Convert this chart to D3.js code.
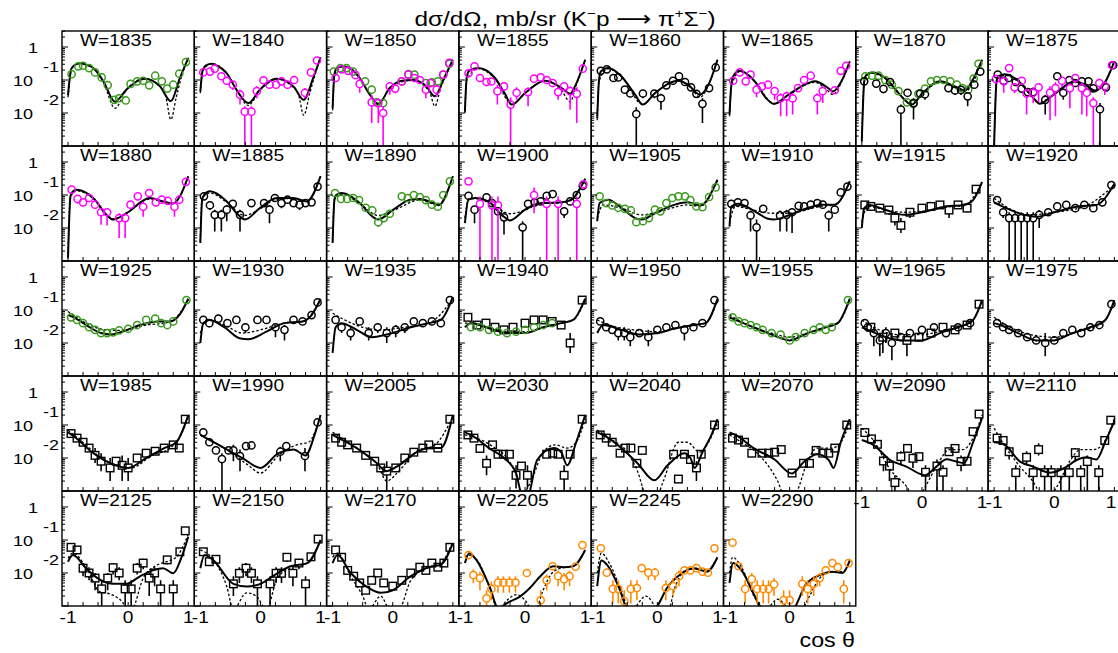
<!DOCTYPE html>
<html><head><meta charset="utf-8">
<script src="https://cdn.jsdelivr.net/npm/d3@7"></script>
<style>body{margin:0;background:#fff}text{font-family:'Liberation Sans',Arial,Helvetica,sans-serif;fill:#000}</style>
</head><body><svg id="c" width="1118" height="653"></svg>
<script>
// ---------------- DATA ----------------
const energies = [1835,1840,1850,1855,1860,1865,1870,1875,
 1880,1885,1890,1900,1905,1910,1915,1920,
 1925,1930,1935,1940,1950,1955,1965,1975,
 1985,1990,2005,2030,2040,2070,2090,2110,
 2125,2150,2170,2205,2245,2290];
const xTickLabels = ["-1","0","1"];
const yTickLabels = [{v:1,base:"1",exp:""},{v:0.1,base:"10",exp:"-1"},{v:0.01,base:"10",exp:"-2"}];

// solid curve (fit 1) per panel: [cos, dsigma/dOmega]
const solidCurves = [
 [[-1,0.035],[-0.97,0.12],[-0.94,0.23],[-0.8,0.32],[-0.7,0.29],[-0.58,0.23],[-0.41,0.09],[-0.22,0.022],[-0.03,0.051],[0.28,0.11],[0.53,0.064],[0.71,0.023],[0.86,0.115],[1,0.47]],
 [[-1,0.045],[-0.96,0.2],[-0.9,0.28],[-0.81,0.31],[-0.7,0.26],[-0.56,0.16],[-0.4,0.051],[-0.2,0.02],[-0.01,0.051],[0.27,0.11],[0.55,0.064],[0.72,0.025],[0.88,0.12],[1,0.49]],
 [[-1,0.014],[-0.97,0.15],[-0.93,0.23],[-0.82,0.26],[-0.7,0.22],[-0.55,0.115],[-0.38,0.036],[-0.24,0.019],[-0.05,0.057],[0.15,0.095],[0.34,0.1],[0.56,0.064],[0.7,0.032],[0.84,0.1],[1,0.41]],
 [[-1,0.011],[-0.97,0.12],[-0.93,0.19],[-0.78,0.23],[-0.5,0.115],[-0.34,0.04],[-0.22,0.018],[0,0.04],[0.33,0.095],[0.61,0.057],[0.75,0.038],[0.83,0.064],[1,0.41]],
 [[-1,0.007],[-0.97,0.1],[-0.94,0.18],[-0.82,0.23],[-0.6,0.13],[-0.37,0.036],[-0.24,0.018],[-0.04,0.04],[0.35,0.095],[0.51,0.072],[0.71,0.036],[0.85,0.072],[1,0.41]],
 [[-1,0.009],[-0.97,0.07],[-0.94,0.13],[-0.83,0.19],[-0.58,0.091],[-0.39,0.028],[-0.26,0.019],[-0.02,0.036],[0.31,0.081],[0.42,0.091],[0.64,0.057],[0.72,0.045],[0.86,0.091],[1,0.37]],
 [[-1,0.0014],[-0.96,0.09],[-0.93,0.14],[-0.83,0.17],[-0.61,0.115],[-0.39,0.04],[-0.17,0.018],[0,0.038],[0.3,0.091],[0.55,0.064],[0.72,0.048],[0.83,0.091],[1,0.41]],
 [[-1,0.001],[-0.96,0.09],[-0.93,0.13],[-0.82,0.15],[-0.6,0.095],[-0.37,0.032],[-0.24,0.019],[-0.05,0.032],[0.35,0.091],[0.51,0.072],[0.68,0.048],[0.84,0.081],[1,0.37]],
 [[-1,0.0013],[-0.96,0.09],[-0.94,0.115],[-0.86,0.145],[-0.58,0.081],[-0.36,0.025],[-0.25,0.018],[-0.03,0.028],[0.36,0.081],[0.58,0.064],[0.75,0.055],[0.86,0.091],[1,0.37]],
 [[-1,0.0035],[-0.97,0.07],[-0.94,0.1],[-0.84,0.13],[-0.56,0.064],[-0.37,0.025],[-0.26,0.018],[-0.01,0.04],[0.27,0.081],[0.55,0.081],[0.77,0.064],[1,0.37]],
 [[-1,0.0035],[-0.97,0.07],[-0.94,0.1],[-0.85,0.115],[-0.55,0.057],[-0.32,0.021],[-0.24,0.018],[0.01,0.036],[0.29,0.072],[0.45,0.076],[0.67,0.057],[0.76,0.049],[1,0.37]],
 [[-1,0.014],[-0.94,0.072],[-0.83,0.081],[-0.61,0.064],[-0.39,0.025],[-0.25,0.017],[0,0.036],[0.27,0.057],[0.61,0.06],[0.77,0.072],[1,0.31]],
 [[-1,0.016],[-0.96,0.057],[-0.82,0.072],[-0.6,0.041],[-0.37,0.02],[-0.26,0.018],[-0.04,0.028],[0.29,0.051],[0.51,0.06],[0.71,0.048],[1,0.29]],
 [[-1,0.011],[-0.97,0.045],[-0.86,0.054],[-0.58,0.032],[-0.36,0.019],[-0.27,0.018],[-0.02,0.024],[0.31,0.041],[0.53,0.051],[0.75,0.051],[1,0.26]],
 [[-1,0.01],[-0.96,0.04],[-0.88,0.05],[-0.6,0.035],[-0.3,0.025],[0,0.03],[0.4,0.045],[0.7,0.05],[0.85,0.07],[1,0.25]],
 [[-1,0.06],[-0.8,0.04],[-0.5,0.025],[-0.3,0.022],[0,0.03],[0.4,0.045],[0.7,0.05],[1,0.22]],
 [[-1,0.07],[-0.9,0.06],[-0.7,0.035],[-0.45,0.02],[-0.3,0.018],[-0.1,0.022],[0.2,0.035],[0.5,0.045],[0.7,0.045],[0.85,0.07],[1,0.22]],
 [[-1,0.01],[-0.95,0.04],[-0.85,0.05],[-0.6,0.03],[-0.35,0.014],[-0.2,0.013],[0.1,0.022],[0.4,0.04],[0.7,0.045],[0.85,0.07],[1,0.22]],
 [[-1,0.005],[-0.95,0.03],[-0.85,0.04],[-0.6,0.025],[-0.35,0.015],[-0.1,0.018],[0.3,0.03],[0.6,0.04],[0.8,0.05],[1,0.25]],
 [[-1,0.03],[-0.9,0.04],[-0.6,0.028],[-0.3,0.02],[0,0.02],[0.3,0.03],[0.6,0.04],[0.8,0.05],[1,0.22]],
 [[-1,0.02],[-0.9,0.035],[-0.6,0.025],[-0.3,0.018],[0,0.02],[0.3,0.028],[0.6,0.035],[0.8,0.04],[1,0.22]],
 [[-1,0.06],[-0.9,0.05],[-0.6,0.03],[-0.3,0.018],[0,0.012],[0.3,0.02],[0.6,0.03],[0.8,0.04],[1,0.22]],
 [[-1,0.03],[-0.9,0.025],[-0.6,0.015],[-0.3,0.012],[0,0.012],[0.3,0.02],[0.6,0.03],[0.85,0.05],[1,0.2]],
 [[-1,0.04],[-0.9,0.035],[-0.6,0.02],[-0.3,0.012],[0,0.012],[0.3,0.02],[0.6,0.03],[0.85,0.05],[1,0.2]],
 [[-1,0.06],[-0.9,0.045],[-0.6,0.015],[-0.3,0.007],[0,0.005],[0.3,0.01],[0.6,0.02],[0.8,0.03],[1,0.2]],
 [[-1,0.05],[-0.9,0.04],[-0.6,0.02],[-0.3,0.01],[0,0.005],[0.3,0.014],[0.55,0.018],[0.75,0.012],[0.9,0.05],[1,0.2]],
 [[-1,0.05],[-0.9,0.04],[-0.6,0.02],[-0.3,0.008],[-0.1,0.004],[0.1,0.006],[0.4,0.015],[0.6,0.02],[0.8,0.02],[1,0.2]],
 [[-1,0.06],[-0.9,0.05],[-0.6,0.02],[-0.35,0.01],[-0.15,0.0035],[-0.05,0.0008],[0.05,0.0008],[0.2,0.0087],[0.48,0.02],[0.6,0.015],[0.7,0.006],[0.85,0.03],[1,0.2]],
 [[-1,0.06],[-0.9,0.05],[-0.6,0.02],[-0.33,0.0069],[-0.05,0.0021],[0.17,0.006],[0.45,0.014],[0.55,0.01],[0.62,0.005],[0.75,0.015],[0.9,0.05],[1,0.15]],
 [[-1,0.06],[-0.9,0.05],[-0.6,0.02],[-0.25,0.009],[0.03,0.0034],[0.25,0.008],[0.46,0.013],[0.65,0.0087],[0.73,0.005],[0.85,0.03],[1,0.15]],
 [[-1,0.035],[-0.81,0.025],[-0.53,0.0087],[-0.26,0.0055],[0.05,0.003],[0.24,0.0055],[0.41,0.0091],[0.57,0.0078],[0.7,0.007],[0.85,0.03],[1,0.16]],
 [[-1,0.03],[-0.85,0.027],[-0.57,0.0078],[-0.35,0.0055],[-0.07,0.0036],[0.21,0.0055],[0.37,0.0087],[0.53,0.0105],[0.7,0.009],[0.86,0.035],[1,0.13]],
 [[-1,0.022],[-0.92,0.035],[-0.7,0.014],[-0.47,0.0063],[-0.25,0.0047],[-0.03,0.0047],[0.19,0.0078],[0.41,0.012],[0.58,0.014],[0.75,0.0098],[0.89,0.031],[1,0.126]],
 [[-1,0.014],[-0.93,0.035],[-0.78,0.024],[-0.45,0.0047],[-0.23,0.0039],[0,0.0047],[0.28,0.0098],[0.5,0.016],[0.78,0.02],[1,0.1]],
 [[-1,0.02],[-0.92,0.035],[-0.7,0.01],[-0.45,0.004],[-0.2,0.0025],[0,0.003],[0.3,0.008],[0.6,0.015],[0.8,0.018],[1,0.08]],
 [[-1,0.02],[-0.93,0.04],[-0.81,0.025],[-0.59,0.0039],[-0.45,0.0009],[-0.26,0.00135],[-0.09,0.0019],[0.08,0.0035],[0.25,0.0078],[0.47,0.016],[0.64,0.015],[0.8,0.016],[1,0.05]],
 [[-1,0.004],[-0.93,0.024],[-0.84,0.018],[-0.62,0.003],[-0.5,0.0008],[-0.2,0.0005],[0,0.001],[0.16,0.0035],[0.38,0.009],[0.6,0.014],[0.82,0.011],[1,0.03]],
 [[-1,0.005],[-0.94,0.02],[-0.8,0.012],[-0.58,0.002],[-0.45,0.0007],[0,0.0005],[0.1,0.001],[0.27,0.0045],[0.49,0.0085],[0.71,0.011],[0.88,0.01],[1,0.024]]
];

// dashed curve (fit 2) per panel
const dashedCurves = [
 [[-1,0.03],[-0.97,0.11],[-0.94,0.22],[-0.8,0.32],[-0.58,0.23],[-0.41,0.085],[-0.22,0.014],[-0.03,0.05],[0.28,0.11],[0.5,0.07],[0.62,0.035],[0.71,0.0063],[0.8,0.03],[0.9,0.15],[1,0.47]],
 [[-1,0.04],[-0.96,0.19],[-0.81,0.31],[-0.56,0.16],[-0.4,0.05],[-0.2,0.017],[-0.01,0.05],[0.27,0.11],[0.52,0.065],[0.63,0.038],[0.72,0.0085],[0.82,0.04],[0.92,0.17],[1,0.49]],
 [[-1,0.012],[-0.97,0.14],[-0.82,0.26],[-0.55,0.115],[-0.38,0.036],[-0.24,0.018],[-0.05,0.055],[0.34,0.1],[0.55,0.06],[0.62,0.04],[0.7,0.016],[0.8,0.06],[0.9,0.16],[1,0.41]],
 [[-1,0.01],[-0.97,0.1],[-0.78,0.22],[-0.5,0.11],[-0.22,0.018],[0,0.04],[0.33,0.095],[0.6,0.05],[0.75,0.022],[0.85,0.07],[1,0.41]],
 [[-1,0.006],[-0.97,0.09],[-0.82,0.22],[-0.6,0.13],[-0.24,0.018],[-0.04,0.04],[0.35,0.095],[0.55,0.06],[0.71,0.03],[0.85,0.07],[1,0.41]],
 [[-1,0.008],[-0.97,0.06],[-0.83,0.18],[-0.58,0.09],[-0.26,0.019],[-0.02,0.035],[0.42,0.085],[0.62,0.05],[0.72,0.036],[0.86,0.085],[1,0.37]],
 [[-1,0.0013],[-0.96,0.085],[-0.83,0.16],[-0.61,0.11],[-0.17,0.02],[0,0.038],[0.3,0.085],[0.72,0.046],[1,0.41]],
 [[-1,0.001],[-0.96,0.085],[-0.82,0.14],[-0.6,0.09],[-0.24,0.021],[-0.05,0.032],[0.35,0.085],[0.68,0.046],[1,0.37]],
 [[-1,0.0012],[-0.96,0.085],[-0.86,0.135],[-0.58,0.078],[-0.25,0.019],[-0.03,0.028],[0.36,0.075],[0.75,0.055],[1,0.37]],
 [[-1,0.004],[-0.97,0.08],[-0.84,0.115],[-0.56,0.06],[-0.26,0.024],[-0.01,0.038],[0.27,0.075],[0.55,0.078],[0.77,0.064],[1,0.37]],
 [[-1,0.004],[-0.97,0.075],[-0.85,0.105],[-0.55,0.055],[-0.24,0.024],[0.01,0.034],[0.45,0.07],[0.76,0.049],[1,0.37]],
 [[-1,0.02],[-0.94,0.075],[-0.83,0.078],[-0.61,0.06],[-0.25,0.027],[0,0.035],[0.27,0.055],[0.61,0.058],[0.77,0.07],[1,0.31]],
 [[-1,0.02],[-0.9,0.05],[-0.6,0.04],[-0.26,0.025],[0,0.03],[0.5,0.05],[0.71,0.045],[1,0.29]],
 [[-1,0.015],[-0.9,0.045],[-0.6,0.035],[-0.3,0.028],[0,0.028],[0.5,0.045],[0.75,0.05],[1,0.26]],
 [[-1,0.015],[-0.9,0.045],[-0.6,0.035],[-0.3,0.03],[0,0.032],[0.4,0.043],[0.7,0.048],[1,0.24]],
 [[-1,0.08],[-0.7,0.035],[-0.4,0.025],[0,0.03],[0.5,0.045],[1,0.2]],
 [[-1,0.09],[-0.8,0.05],[-0.5,0.028],[-0.3,0.024],[0,0.025],[0.3,0.035],[0.6,0.04],[0.8,0.06],[1,0.2]],
 [[-1,0.02],[-0.9,0.05],[-0.6,0.035],[-0.3,0.02],[0,0.025],[0.4,0.04],[0.7,0.045],[1,0.2]],
 [[-1,0.08],[-0.8,0.05],[-0.5,0.03],[-0.2,0.025],[0.2,0.03],[0.6,0.04],[1,0.22]],
 [[-1,0.04],[-0.85,0.04],[-0.6,0.03],[-0.3,0.022],[0,0.022],[0.3,0.03],[0.6,0.04],[0.8,0.05],[1,0.2]],
 [[-1,0.05],[-0.8,0.035],[-0.4,0.025],[0,0.022],[0.4,0.03],[0.8,0.04],[1,0.2]],
 [[-1,0.07],[-0.9,0.055],[-0.6,0.03],[-0.3,0.02],[0,0.015],[0.3,0.02],[0.6,0.03],[0.8,0.04],[1,0.2]],
 [[-1,0.05],[-0.8,0.03],[-0.4,0.018],[0,0.018],[0.4,0.025],[0.8,0.04],[1,0.18]],
 [[-1,0.06],[-0.8,0.035],[-0.4,0.018],[0,0.015],[0.4,0.022],[0.8,0.04],[1,0.18]],
 [[-1,0.07],[-0.8,0.035],[-0.5,0.012],[-0.2,0.006],[0.05,0.005],[0.4,0.012],[0.7,0.02],[0.9,0.06],[1,0.18]],
 [[-1,0.05],[-0.85,0.035],[-0.5,0.015],[-0.2,0.006],[0,0.0035],[0.3,0.012],[0.6,0.025],[0.8,0.03],[1,0.2]],
 [[-1,0.06],[-0.85,0.04],[-0.5,0.015],[-0.25,0.006],[-0.1,0.002],[0.1,0.004],[0.4,0.016],[0.7,0.025],[1,0.18]],
 [[-1,0.05],[-0.8,0.04],[-0.5,0.02],[-0.3,0.01],[-0.15,0.003],[-0.05,0.0008],[0.1,0.002],[0.3,0.015],[0.5,0.025],[0.7,0.02],[0.85,0.03],[1,0.15]],
 [[-1,0.07],[-0.8,0.04],[-0.5,0.015],[-0.33,0.004],[-0.2,0.0008],[-0.05,0.0005],[0.1,0.002],[0.35,0.03],[0.5,0.03],[0.7,0.015],[0.85,0.03],[1,0.12]],
 [[-1,0.05],[-0.8,0.03],[-0.5,0.012],[-0.2,0.002],[-0.05,0.0005],[0.1,0.0008],[0.3,0.008],[0.45,0.02],[0.7,0.02],[0.85,0.03],[1,0.12]],
 [[-1,0.08],[-0.81,0.035],[-0.53,0.0045],[-0.26,0.0014],[-0.1,0.0005],[0.07,0.0015],[0.24,0.0055],[0.46,0.018],[0.68,0.018],[0.85,0.04],[1,0.2]],
 [[-1,0.08],[-0.8,0.02],[-0.57,0.0055],[-0.35,0.0019],[-0.15,0.0005],[0.05,0.0014],[0.27,0.0087],[0.44,0.018],[0.66,0.018],[0.83,0.03],[1,0.16]],
 [[-1,0.028],[-0.92,0.04],[-0.7,0.015],[-0.47,0.0027],[-0.3,0.0023],[-0.08,0.0012],[0,0.0007],[0.07,0.0008],[0.25,0.007],[0.47,0.017],[0.64,0.022],[0.8,0.03],[1,0.15]],
 [[-1,0.05],[-0.78,0.025],[-0.56,0.0039],[-0.45,0.0008],[-0.23,0.0025],[-0.07,0.002],[0.1,0.0008],[0.28,0.007],[0.5,0.014],[0.78,0.02],[1,0.1]],
 [[-1,0.03],[-0.92,0.04],[-0.7,0.008],[-0.5,0.002],[-0.4,0.0008],[-0.2,0.002],[-0.05,0.0008],[0.1,0.0008],[0.3,0.006],[0.6,0.015],[0.8,0.02],[1,0.09]],
 [[-1,0.03],[-0.94,0.035],[-0.8,0.025],[-0.6,0.004],[-0.45,0.0008],[-0.3,0.0015],[-0.15,0.0022],[0,0.0015],[0.15,0.0006],[0.3,0.003],[0.45,0.01],[0.6,0.014],[0.8,0.016],[1,0.05]],
 [[-1,0.01],[-0.93,0.04],[-0.8,0.02],[-0.6,0.003],[-0.45,0.0007],[-0.19,0.002],[0,0.0008],[0.15,0.0005],[0.3,0.004],[0.5,0.013],[0.7,0.014],[0.85,0.012],[1,0.03]],
 [[-1,0.01],[-0.95,0.03],[-0.8,0.015],[-0.58,0.0018],[-0.4,0.0008],[-0.2,0.0016],[0,0.0008],[0.15,0.0006],[0.33,0.002],[0.5,0.007],[0.71,0.011],[0.88,0.011],[1,0.022]]
];

// measured points per panel; key = data set (G green o, M magenta o, K black o, S black square, O orange o)
// entries: [cos, value] or [cos, value, lowerErrorEnd, upperErrorEnd]
const measurements = [
 {G:[[-0.94,0.15],[-0.83,0.26],[-0.75,0.27],[-0.65,0.23],[-0.55,0.17],[-0.44,0.12],[-0.34,0.07],[-0.23,0.025,0.02,0.032],[-0.15,0.028],[-0.04,0.024],[0.04,0.076],[0.15,0.091],[0.25,0.095],[0.35,0.069],[0.45,0.135],[0.56,0.091],[0.65,0.055],[0.75,0.072],[0.85,0.155],[0.96,0.35]]},
 {M:[[-0.95,0.17,0.14,0.2],[-0.84,0.18,0.15,0.21],[-0.76,0.22,0.19,0.25],[-0.65,0.13,0.1,0.16],[-0.56,0.095,0.08,0.11],[-0.46,0.072,0.05,0.085],[-0.34,0.036,0.018,0.051],[-0.26,0.011,0.0005,0.016],[-0.15,0.011,0.0005,0.016],[-0.06,0.046,0.028,0.065],[0.05,0.098],[0.15,0.072,0.055,0.09],[0.26,0.072,0.055,0.09],[0.35,0.091,0.075,0.11],[0.45,0.072,0.055,0.09],[0.56,0.1,0.085,0.12],[0.74,0.041,0.028,0.057],[0.84,0.17],[0.94,0.39]]},
 {G:[[-0.98,0.18],[-0.87,0.23],[-0.77,0.23],[-0.66,0.18],[-0.46,0.091],[-0.35,0.051],[-0.27,0.021],[-0.16,0.02],[0.15,0.091],[0.26,0.15],[0.36,0.145],[0.55,0.081],[0.65,0.085],[0.75,0.091],[0.84,0.145],[0.94,0.31]],
  M:[[-0.95,0.115,0.09,0.14],[-0.85,0.21],[-0.74,0.19,0.16,0.22],[-0.62,0.14,0.11,0.16],[-0.55,0.076,0.041,0.115],[-0.35,0.021,0.005,0.036],[-0.24,0.02,0.005,0.028],[-0.16,0.01,0.0005,0.016],[-0.05,0.064,0.036,0.08],[0.04,0.055,0.04,0.07],[0.15,0.091,0.07,0.11],[0.26,0.145,0.12,0.17],[0.36,0.115],[0.45,0.1,0.08,0.12],[0.55,0.051,0.028,0.064],[0.63,0.081,0.06,0.1],[0.73,0.051,0.03,0.07],[0.84,0.145],[0.94,0.33]]},
 {M:[[-0.94,0.16,0.13,0.19],[-0.84,0.26,0.22,0.3],[-0.75,0.115,0.09,0.145],[-0.64,0.087,0.065,0.11],[-0.56,0.09,0.07,0.11],[-0.46,0.046,0.018,0.07],[-0.35,0.064,0.046,0.085],[-0.24,0.018,0.0005,0.03],[-0.14,0.041,0.025,0.06],[0.05,0.043,0.016,0.06],[0.15,0.11,0.09,0.13],[0.26,0.12,0.1,0.145],[0.36,0.1,0.08,0.125],[0.46,0.081,0.06,0.1],[0.55,0.043,0.025,0.06],[0.65,0.064,0.045,0.085],[0.75,0.046,0.0126,0.064],[0.86,0.038,0.005,0.06],[0.96,0.22]]},
 {K:[[-0.94,0.19],[-0.84,0.21],[-0.73,0.115],[-0.65,0.12],[-0.54,0.051,0.04,0.065],[-0.45,0.039],[-0.35,0.0093,0.0005,0.015],[-0.24,0.039,0.028,0.05],[-0.05,0.039,0.028,0.05],[0.06,0.028,0.0126,0.038],[0.15,0.069],[0.26,0.095],[0.36,0.13],[0.46,0.087],[0.56,0.06],[0.65,0.038],[0.75,0.019,0.005,0.028],[0.86,0.057],[0.97,0.24]]},
 {M:[[-0.94,0.095],[-0.83,0.17],[-0.73,0.091,0.07,0.115],[-0.65,0.145],[-0.55,0.051,0.03,0.075],[-0.46,0.064],[-0.36,0.072],[-0.25,0.046,0.025,0.06],[-0.15,0.028,0.008,0.04],[-0.05,0.032,0.008,0.045],[0.05,0.028,0.009,0.04],[0.14,0.057],[0.24,0.1],[0.35,0.135],[0.46,0.028,0.009,0.04],[0.55,0.046,0.02,0.065],[0.75,0.049],[0.85,0.19],[0.94,0.27]]},
 {G:[[-0.94,0.13],[-0.83,0.135],[-0.72,0.135],[-0.61,0.1],[-0.5,0.072],[-0.39,0.046],[-0.25,0.021],[-0.14,0.019],[-0.06,0.038],[0.05,0.055],[0.15,0.091],[0.25,0.1],[0.36,0.1],[0.47,0.091],[0.58,0.072],[0.67,0.057],[0.77,0.051],[0.86,0.11],[0.94,0.31]],
  K:[[-0.96,0.091],[-0.76,0.078],[-0.64,0.054,0.04,0.065],[-0.53,0.087],[-0.35,0.0126,0.0005,0.018],[-0.24,0.041],[-0.14,0.02,0.0063,0.028],[-0.03,0.039],[0.05,0.037,0.025,0.045],[0.44,0.057],[0.55,0.048,0.035,0.06],[0.65,0.05,0.035,0.065],[0.76,0.032,0.016,0.04],[0.87,0.072],[0.97,0.18]]},
 {K:[[-0.94,0.145],[-0.84,0.095],[-0.76,0.115],[-0.64,0.087],[-0.54,0.055],[-0.44,0.043,0.03,0.055],[-0.35,0.043,0.03,0.055],[-0.15,0.025,0.009,0.035],[0.05,0.13],[0.15,0.041,0.025,0.055],[0.25,0.1],[0.35,0.081],[0.46,0.091],[0.57,0.091],[0.65,0.056],[0.76,0.013,0.0005,0.02],[0.86,0.06],[0.98,0.28]],
  M:[[-0.97,0.107,0.08,0.13],[-0.84,0.091,0.041,0.115],[-0.75,0.23,0.19,0.27],[-0.66,0.06,0.04,0.08],[-0.54,0.095],[-0.46,0.039,0.009,0.055],[-0.35,0.041,0.02,0.06],[-0.26,0.06,0.022,0.08],[-0.07,0.041,0.006,0.065],[0.02,0.057,0.008,0.085],[0.13,0.095,0.06,0.125],[0.26,0.057,0.014,0.08],[0.35,0.115,0.08,0.145],[0.46,0.057,0.009,0.085],[0.54,0.041,0.008,0.06],[0.65,0.02,0.0005,0.03],[0.75,0.081,0.05,0.11],[0.84,0.065,0.035,0.09],[0.96,0.28]]},
 {M:[[-0.94,0.145],[-0.84,0.076,0.055,0.09],[-0.75,0.06,0.045,0.075],[-0.65,0.081],[-0.55,0.051,0.04,0.065],[-0.45,0.03,0.0126,0.04],[-0.35,0.03,0.012,0.04],[-0.15,0.02,0.005,0.028],[-0.05,0.02,0.005,0.028],[0.04,0.051,0.04,0.065],[0.16,0.091],[0.25,0.044,0.022,0.06],[0.35,0.115],[0.46,0.06,0.045,0.075],[0.56,0.072,0.055,0.09],[0.66,0.066,0.05,0.08],[0.77,0.044,0.022,0.06],[0.85,0.072],[0.96,0.25]]},
 {K:[[-0.94,0.091,0.07,0.11],[-0.84,0.049,0.035,0.065],[-0.76,0.025,0.0079,0.036],[-0.65,0.025,0.0079,0.036],[-0.56,0.036,0.016,0.05],[-0.46,0.054],[-0.34,0.025,0.0079,0.036],[-0.15,0.057,0.045,0.07],[0.06,0.057,0.045,0.07],[0.15,0.036,0.014,0.05],[0.24,0.081,0.065,0.1],[0.35,0.057,0.04,0.075],[0.45,0.072,0.055,0.09],[0.55,0.057,0.045,0.07],[0.65,0.051,0.035,0.065],[0.75,0.057,0.045,0.07],[0.85,0.06],[0.95,0.18]]},
 {G:[[-0.96,0.115],[-0.86,0.076],[-0.76,0.076],[-0.66,0.081],[-0.56,0.07],[-0.45,0.041],[-0.34,0.034],[-0.24,0.015,0.011,0.019],[-0.15,0.02],[-0.05,0.027],[0.15,0.091],[0.25,0.081],[0.35,0.1],[0.45,0.087],[0.55,0.07],[0.65,0.051],[0.75,0.044],[0.84,0.1],[0.95,0.26]]},
 {K:[[-0.94,0.095],[-0.84,0.036,0.014,0.046],[-0.64,0.085],[-0.55,0.057],[-0.45,0.032],[-0.35,0.021,0.0063,0.03],[-0.04,0.0105,0.0005,0.016],[0.05,0.054],[0.16,0.06],[0.26,0.064],[0.36,0.095],[0.46,0.107],[0.65,0.032,0.02,0.04],[0.75,0.064],[0.86,0.1],[0.96,0.19]],
  M:[[-0.94,0.26,0.2,0.32],[-0.75,0.054,0.0005,0.09],[-0.55,0.049,0.0005,0.09],[-0.45,0.049,0.0005,0.09],[0.15,0.1,0.028,0.17],[0.36,0.054,0.0005,0.09],[0.55,0.054,0.0005,0.09],[0.86,0.054,0.0005,0.09],[0.97,0.21]]},
 {G:[[-0.96,0.091],[-0.85,0.057],[-0.75,0.048],[-0.65,0.041],[-0.54,0.038],[-0.44,0.034],[-0.35,0.015,0.012,0.019],[-0.24,0.016],[-0.14,0.02],[-0.04,0.036],[0.05,0.032],[0.15,0.057],[0.25,0.081],[0.35,0.091],[0.46,0.091],[0.55,0.07],[0.65,0.045],[0.75,0.043],[0.86,0.087],[0.97,0.17]]},
 {K:[[-0.97,0.054,0.04,0.065],[-0.86,0.06,0.045,0.075],[-0.75,0.057],[-0.65,0.024,0.0079,0.034],[-0.55,0.0105,0.0005,0.018],[-0.44,0.038],[-0.16,0.024,0.0079,0.034],[-0.05,0.025,0.0079,0.036],[0.04,0.03,0.0071,0.04],[0.15,0.047,0.035,0.06],[0.24,0.045,0.035,0.06],[0.35,0.051,0.04,0.065],[0.46,0.057,0.045,0.07],[0.55,0.051,0.04,0.065],[0.65,0.024,0.0079,0.034],[0.75,0.036],[0.85,0.12],[0.96,0.18]]},
 {S:[[-0.95,0.05],[-0.85,0.045,0.035,0.06],[-0.7,0.04,0.03,0.05],[-0.55,0.035,0.025,0.045],[-0.45,0.02,0.012,0.03],[-0.35,0.012,0.007,0.02],[-0.2,0.03,0.02,0.04],[0,0.04,0.03,0.05],[0.15,0.045],[0.3,0.05,0.04,0.06],[0.45,0.035,0.02,0.05],[0.6,0.05,0.04,0.06],[0.75,0.04,0.03,0.05],[0.9,0.15]]},
 {K:[[-0.95,0.07],[-0.85,0.03,0.02,0.04],[-0.75,0.02,0.0005,0.03],[-0.65,0.02,0.0005,0.03],[-0.55,0.02,0.0005,0.03],[-0.45,0.02,0.0005,0.03],[-0.35,0.02,0.0005,0.03],[-0.25,0.025,0.01,0.035],[-0.1,0.03],[0.05,0.045,0.03,0.06],[0.2,0.05],[0.35,0.04],[0.5,0.05],[0.65,0.04],[0.8,0.06],[0.95,0.2]]},
 {G:[[-0.95,0.06],[-0.85,0.05],[-0.75,0.04],[-0.65,0.03],[-0.55,0.025],[-0.45,0.02],[-0.35,0.02],[-0.25,0.021],[-0.15,0.024],[0,0.027],[0.15,0.035],[0.3,0.05],[0.45,0.055],[0.55,0.04],[0.65,0.035],[0.75,0.045],[0.97,0.2]]},
 {K:[[-0.95,0.05,0.04,0.06],[-0.85,0.04,0.03,0.05],[-0.7,0.055,0.045,0.065],[-0.55,0.04,0.03,0.05],[-0.4,0.05,0.04,0.06],[-0.25,0.03,0.02,0.04],[-0.05,0.05,0.04,0.06],[0.1,0.05,0.04,0.06],[0.25,0.03,0.015,0.04],[0.4,0.025,0.012,0.035],[0.55,0.05,0.04,0.06],[0.7,0.045,0.035,0.055],[0.85,0.07],[0.95,0.17]]},
 {K:[[-0.95,0.05],[-0.85,0.03,0.02,0.04],[-0.7,0.02,0.012,0.03],[-0.55,0.045],[-0.4,0.02,0.012,0.03],[-0.25,0.03,0.02,0.04],[-0.1,0.02,0.01,0.03],[0.05,0.025,0.015,0.035],[0.2,0.03,0.02,0.04],[0.35,0.045],[0.5,0.04],[0.65,0.045],[0.8,0.04],[0.95,0.2]]},
 {S:[[-0.95,0.06],[-0.8,0.035],[-0.65,0.04],[-0.5,0.03],[-0.35,0.025],[-0.2,0.03],[0,0.04],[0.15,0.05],[0.3,0.05],[0.45,0.045],[0.6,0.035],[0.75,0.01,0.005,0.02],[0.95,0.2]],
  G:[[-0.9,0.03],[-0.75,0.03],[-0.6,0.025],[-0.45,0.022],[-0.3,0.02],[-0.15,0.022],[0,0.025],[0.15,0.03],[0.3,0.035],[0.45,0.04]]},
 {K:[[-0.95,0.045],[-0.85,0.03],[-0.75,0.025],[-0.65,0.02,0.012,0.03],[-0.55,0.02,0.012,0.03],[-0.45,0.015,0.008,0.025],[-0.3,0.02],[-0.15,0.015,0.008,0.025],[0,0.025],[0.15,0.03],[0.3,0.035],[0.45,0.025,0.012,0.035],[0.6,0.03],[0.75,0.04],[0.95,0.2]]},
 {G:[[-0.95,0.06],[-0.85,0.045],[-0.75,0.04],[-0.65,0.035],[-0.55,0.03],[-0.45,0.025],[-0.3,0.02],[-0.15,0.018],[0,0.012],[0.1,0.015],[0.25,0.02],[0.4,0.025],[0.5,0.03],[0.6,0.025],[0.7,0.03],[0.97,0.2]]},
 {K:[[-0.95,0.04],[-0.9,0.03],[-0.8,0.02,0.008,0.03],[-0.7,0.012,0.004,0.02],[-0.6,0.02,0.01,0.03],[-0.5,0.01,0.003,0.02],[-0.35,0.015],[-0.2,0.02],[0,0.025],[0.2,0.03],[0.4,0.02],[0.6,0.03],[0.8,0.04]],
  S:[[-0.85,0.03],[-0.65,0.015,0.005,0.025],[-0.45,0.02],[-0.25,0.012,0.004,0.02],[-0.05,0.015],[0.15,0.02],[0.35,0.03],[0.55,0.025],[0.75,0.035],[0.95,0.15]]},
 {K:[[-0.95,0.04],[-0.85,0.03],[-0.75,0.025],[-0.6,0.02],[-0.45,0.015],[-0.3,0.012],[-0.15,0.01,0.004,0.02],[0,0.012],[0.15,0.02],[0.3,0.025],[0.45,0.02],[0.6,0.03],[0.75,0.035],[0.95,0.15]]},
 {S:[[-0.95,0.055],[-0.85,0.04],[-0.75,0.03],[-0.65,0.02],[-0.55,0.012,0.007,0.02],[-0.45,0.008,0.004,0.014],[-0.3,0.005,0.002,0.01],[-0.2,0.008],[-0.1,0.006,0.002,0.012],[0,0.005,0.002,0.01],[0.15,0.01],[0.3,0.014],[0.45,0.016],[0.6,0.02],[0.75,0.025],[0.85,0.02],[0.95,0.15]]},
 {K:[[-0.95,0.06],[-0.85,0.03],[-0.74,0.017],[-0.64,0.0093,0.0005,0.014],[-0.53,0.017],[-0.45,0.017,0.008,0.025],[-0.34,0.0115,0.004,0.018],[-0.24,0.023],[-0.15,0.024],[0.33,0.0155,0.008,0.022],[0.43,0.023],[0.74,0.0115,0.004,0.02],[0.95,0.12]]},
 {S:[[-0.95,0.04],[-0.85,0.03],[-0.75,0.025],[-0.6,0.02],[-0.45,0.012],[-0.3,0.008],[-0.2,0.005],[-0.1,0.004,0.001,0.008],[0.05,0.005],[0.2,0.01],[0.35,0.015],[0.5,0.02],[0.6,0.025],[0.75,0.02],[0.95,0.15]]},
 {S:[[-0.95,0.05],[-0.85,0.04],[-0.75,0.0195],[-0.64,0.0069,0.003,0.012],[-0.54,0.025],[-0.45,0.013],[-0.36,0.013],[-0.26,0.013],[-0.15,0.003,0.0012,0.006],[-0.06,0.0057],[0.04,0.003,0.0012,0.006],[0.36,0.013],[0.46,0.014],[0.55,0.013],[0.65,0.003,0.001,0.006],[0.75,0.013],[0.95,0.15]]},
 {S:[[-0.95,0.05],[-0.85,0.04],[-0.75,0.03],[-0.62,0.014],[-0.53,0.02],[-0.44,0.02],[-0.34,0.0069],[-0.25,0.017],[0.27,0.013],[0.35,0.0023],[0.45,0.013],[0.55,0.009],[0.65,0.005,0.002,0.008],[0.73,0.013],[0.95,0.1]]},
 {S:[[-0.95,0.04],[-0.85,0.035],[-0.75,0.03],[-0.63,0.014],[-0.46,0.014],[-0.35,0.014],[-0.25,0.015],[-0.14,0.018],[0.04,0.0035],[0.23,0.0069],[0.33,0.0069],[0.44,0.017],[0.55,0.014],[0.65,0.014],[0.75,0.02],[0.95,0.1]]},
 {S:[[-0.95,0.059],[-0.84,0.038],[-0.74,0.026],[-0.64,0.0081,0.004,0.012],[-0.54,0.0057,0.002,0.009],[-0.45,0.0018,0.0005,0.003],[-0.35,0.011,0.006,0.016],[-0.24,0.0195],[-0.15,0.0098,0.005,0.014],[-0.05,0.011],[0.06,0.0037,0.0005,0.006],[0.25,0.0057,0.0005,0.009],[0.35,0.0037,0.0005,0.006],[0.45,0.0155],[0.55,0.0195],[0.65,0.0078,0.004,0.012],[0.75,0.008],[0.85,0.063],[0.95,0.215]]},
 {S:[[-0.95,0.04],[-0.85,0.034],[-0.75,0.0155,0.009,0.022],[-0.64,0.0036,0.0005,0.006],[-0.46,0.0105,0.006,0.016],[-0.35,0.0036,0.0005,0.006],[-0.26,0.018,0.012,0.028],[-0.16,0.0036,0.0005,0.006],[-0.05,0.0036,0.0005,0.006],[0.11,0.0036,0.0005,0.006],[0.25,0.0036,0.0005,0.006],[0.35,0.0145,0.008,0.02],[0.44,0.0036,0.0005,0.006],[0.55,0.0078,0.0005,0.012],[0.74,0.0036,0.0005,0.006],[0.84,0.034],[0.94,0.14]]},
 {S:[[-0.95,0.06],[-0.85,0.05],[-0.75,0.014,0.008,0.02],[-0.65,0.01,0.006,0.015],[-0.55,0.007,0.003,0.01],[-0.44,0.0033,0.0005,0.006],[-0.34,0.007,0.003,0.01],[-0.25,0.0145,0.009,0.02],[-0.15,0.01,0.006,0.015],[-0.05,0.0033,0.0005,0.006],[0.05,0.0033,0.0005,0.006],[0.15,0.014,0.009,0.02],[0.25,0.02,0.013,0.027],[0.35,0.007,0.002,0.01],[0.44,0.01,0.004,0.015],[0.54,0.0033,0.0005,0.006],[0.65,0.025,0.018,0.032],[0.75,0.0033,0.0005,0.006],[0.86,0.044],[0.95,0.19]]},
 {S:[[-0.95,0.044],[-0.85,0.022],[-0.74,0.026],[-0.45,0.0047,0.002,0.008],[-0.35,0.0098,0.005,0.015],[-0.24,0.014,0.008,0.02],[-0.15,0.0098,0.005,0.015],[-0.05,0.0047,0.0005,0.008],[0.16,0.0047,0.0005,0.008],[0.26,0.0098,0.005,0.015],[0.35,0.0098,0.005,0.015],[0.44,0.03,0.022,0.038],[0.54,0.0098,0.004,0.015],[0.64,0.02,0.013,0.027],[0.75,0.0047,0.0005,0.008],[0.84,0.031],[0.96,0.107]]},
 {S:[[-0.95,0.05],[-0.85,0.03],[-0.75,0.012],[-0.65,0.008],[-0.55,0.005],[-0.45,0.003],[-0.35,0.006],[-0.25,0.01],[-0.15,0.005],[0,0.004],[0.15,0.006],[0.3,0.01],[0.45,0.015],[0.55,0.012],[0.65,0.02],[0.75,0.015],[0.85,0.02],[0.95,0.06]]},
 {O:[[-0.94,0.035],[-0.86,0.0087,0.005,0.013],[-0.75,0.007,0.003,0.011],[-0.64,0.0017,0.0005,0.003],[-0.56,0.0033,0.0015,0.0055],[-0.45,0.0051,0.0025,0.008],[-0.36,0.0051,0.0025,0.008],[-0.26,0.0051,0.0025,0.008],[-0.16,0.0051,0.0025,0.008],[0.03,0.01],[0.26,0.0015,0.0005,0.003],[0.36,0.006,0.003,0.009],[0.46,0.016],[0.55,0.008,0.004,0.012],[0.65,0.0065,0.003,0.01],[0.74,0.008,0.004,0.012],[0.84,0.0155],[0.955,0.07]]},
 {O:[[-0.94,0.056],[-0.84,0.0102],[-0.74,0.0033,0.0012,0.006],[-0.65,0.0033,0.0012,0.006],[-0.55,0.0014,0.0005,0.003],[-0.44,0.0033,0.0012,0.006],[-0.34,0.0035,0.0015,0.006],[-0.26,0.014],[-0.15,0.0102,0.006,0.014],[-0.04,0.0102,0.006,0.014],[0.14,0.0035,0.0015,0.006],[0.26,0.004,0.002,0.007],[0.36,0.008,0.004,0.012],[0.45,0.012],[0.55,0.012],[0.65,0.014],[0.75,0.011],[0.84,0.0102],[0.95,0.056]]},
 {O:[[-0.95,0.083],[-0.85,0.016],[-0.74,0.0033,0.0012,0.006],[-0.63,0.0065,0.003,0.01],[-0.54,0.0033,0.0012,0.006],[-0.44,0.0033,0.0012,0.006],[-0.35,0.0033,0.0012,0.006],[-0.26,0.0045,0.002,0.007],[-0.1,0.0015,0.0005,0.003],[0,0.0015,0.0005,0.003],[0.21,0.0047,0.002,0.008],[0.3,0.0033,0.0012,0.006],[0.4,0.0047,0.002,0.008],[0.5,0.007,0.004,0.01],[0.6,0.012],[0.71,0.02],[0.8,0.015],[0.9,0.0033,0.0012,0.006],[0.98,0.02]]}
];

// ---------------- DRAWING ----------------
const W_PX = 1118;
const svg = d3.select('#c');
svg.append('rect').attr('width',W_PX).attr('height',653).attr('fill','#fff');
const defs = svg.append('defs');
const NCOL = 8, X0 = 62, PW = 132.3, Y0 = 31, PH = 115;
const YTOP = Math.pow(10, 0.485);
const styleOf = {G:{c:'#3a9a1e',s:'circle'}, M:{c:'#ff00ff',s:'circle'}, K:{c:'#000000',s:'circle'}, S:{c:'#000000',s:'square'}, O:{c:'#ff8a00',s:'circle'}};
const yTickVals = [];
for (let d = -3; d <= 0; d++) for (let k = 1; k <= 9; k++) { const v = k*Math.pow(10,d); if (v <= YTOP) yTickVals.push({v, major:k===1}); }
const xTickVals = d3.range(-1, 1.0001, 0.25);
const nPanels = energies.length;

function stretchText(sel, x, y, sx) { return sel.attr('transform', `translate(${x},${y}) scale(${sx},1)`); }

energies.forEach((w, i) => {
  const col = i % NCOL, row = Math.floor(i / NCOL);
  const x0 = X0 + col*PW, y0 = Y0 + row*PH;
  const x = d3.scaleLinear().domain([-1.1, 1.1]).range([x0, x0+PW]);
  const y = d3.scaleLog().domain([1e-3, YTOP]).range([y0+PH, y0]);
  const g = svg.append('g');
  const cid = 'clip' + i;
  defs.append('clipPath').attr('id', cid).append('rect').attr('x', x0).attr('y', y0).attr('width', PW).attr('height', PH);
  const inner = g.append('g').attr('clip-path', `url(#${cid})`);

  // ticks
  yTickVals.forEach(t => {
    const yy = y(t.v);
    g.append('line').attr('x1', x0).attr('x2', x0 + (t.major ? 6 : 3)).attr('y1', yy).attr('y2', yy).attr('stroke', '#000').attr('stroke-width', 1);
  });
  xTickVals.forEach(t => {
    const xx = x(t);
    g.append('line').attr('x1', xx).attr('x2', xx).attr('y1', y0+PH).attr('y2', y0+PH-4).attr('stroke', '#000').attr('stroke-width', 1);
  });

  const line = d3.line().x(d => x(d[0])).y(d => y(d[1])).curve(d3.curveMonotoneX);
  inner.append('path').attr('d', line(dashedCurves[i])).attr('fill', 'none').attr('stroke', '#000').attr('stroke-width', 1.3).attr('stroke-dasharray', '2.5,2');
  inner.append('path').attr('d', line(solidCurves[i])).attr('fill', 'none').attr('stroke', '#000').attr('stroke-width', 2);

  const sets = measurements[i];
  Object.keys(sets).forEach(key => {
    const st = styleOf[key];
    const r = 3.6;
    sets[key].forEach(p => {
      const px = x(p[0]), py = y(p[1]);
      if (p.length > 2) {
        const yl = y(Math.max(p[2], 1e-4)), yh = y(p[3]);
        if (yh < py - r) inner.append('line').attr('x1', px).attr('x2', px).attr('y1', yh).attr('y2', py - r).attr('stroke', st.c).attr('stroke-width', 1.6);
        if (yl > py + r) inner.append('line').attr('x1', px).attr('x2', px).attr('y1', py + r).attr('y2', yl).attr('stroke', st.c).attr('stroke-width', 1.6);
      }
      if (st.s === 'circle') {
        inner.append('circle').attr('cx', px).attr('cy', py).attr('r', r).attr('fill', 'none').attr('stroke', st.c).attr('stroke-width', 1.5);
      } else {
        inner.append('rect').attr('x', px - 3.8).attr('y', py - 3.8).attr('width', 7.6).attr('height', 7.6).attr('fill', 'none').attr('stroke', st.c).attr('stroke-width', 1.4);
      }
    });
  });

  // frame
  g.append('rect').attr('x', x0).attr('y', y0).attr('width', PW).attr('height', PH).attr('fill', 'none').attr('stroke', '#000').attr('stroke-width', 1.4);

  // energy label
  stretchText(g.append('text').text('W=' + w).attr('font-size', 16.5), x0 + 18, y0 + 14.5, 1.16);

  // y labels on first column
  if (col === 0) {
    yTickLabels.forEach(t => {
      const yy = y(t.v);
      if (t.exp === '') {
        stretchText(g.append('text').text(t.base).attr('font-size', 15.5).attr('text-anchor', 'end'), 38, yy + 6, 1.16);
      } else {
        stretchText(g.append('text').text(t.base).attr('font-size', 15.5).attr('text-anchor', 'end'), 33, yy + 6, 1.16);
        stretchText(g.append('text').text(t.exp).attr('font-size', 15.5).attr('text-anchor', 'start'), 43, yy - 8, 1.16);
      }
    });
  }
  // x labels on the lowest panel of each column
  if (i + NCOL >= nPanels) {
    [-1, 0, 1].forEach((v, k) => {
      const lx = Math.min(x(v), W_PX - 7);
      stretchText(g.append('text').text(xTickLabels[k]).attr('font-size', 16.5).attr('text-anchor', 'middle'), lx, y0 + PH + 17, 1.16);
    });
  }
});

// title
const title = svg.append('text').attr('font-size', 21).attr('text-anchor', 'middle');
stretchText(title, 565, 26, 1.16);
title.append('tspan').text('dσ/dΩ, mb/sr (K');
title.append('tspan').text('−').attr('font-size', 13).attr('dy', -8);
title.append('tspan').text('p ').attr('dy', 8);
title.append('tspan').text('⟶').style('font-family', "'DejaVu Sans', sans-serif");
title.append('tspan').text(' π');
title.append('tspan').text('+').attr('font-size', 13).attr('dy', -8);
title.append('tspan').text('Σ').attr('dy', 8);
title.append('tspan').text('−').attr('font-size', 13).attr('dy', -8);
title.append('tspan').text(')').attr('dy', 8);

// x axis title
stretchText(svg.append('text').text('cos θ').attr('font-size', 20).attr('text-anchor', 'end'), 855, 647, 1.16);
</script></body></html>
